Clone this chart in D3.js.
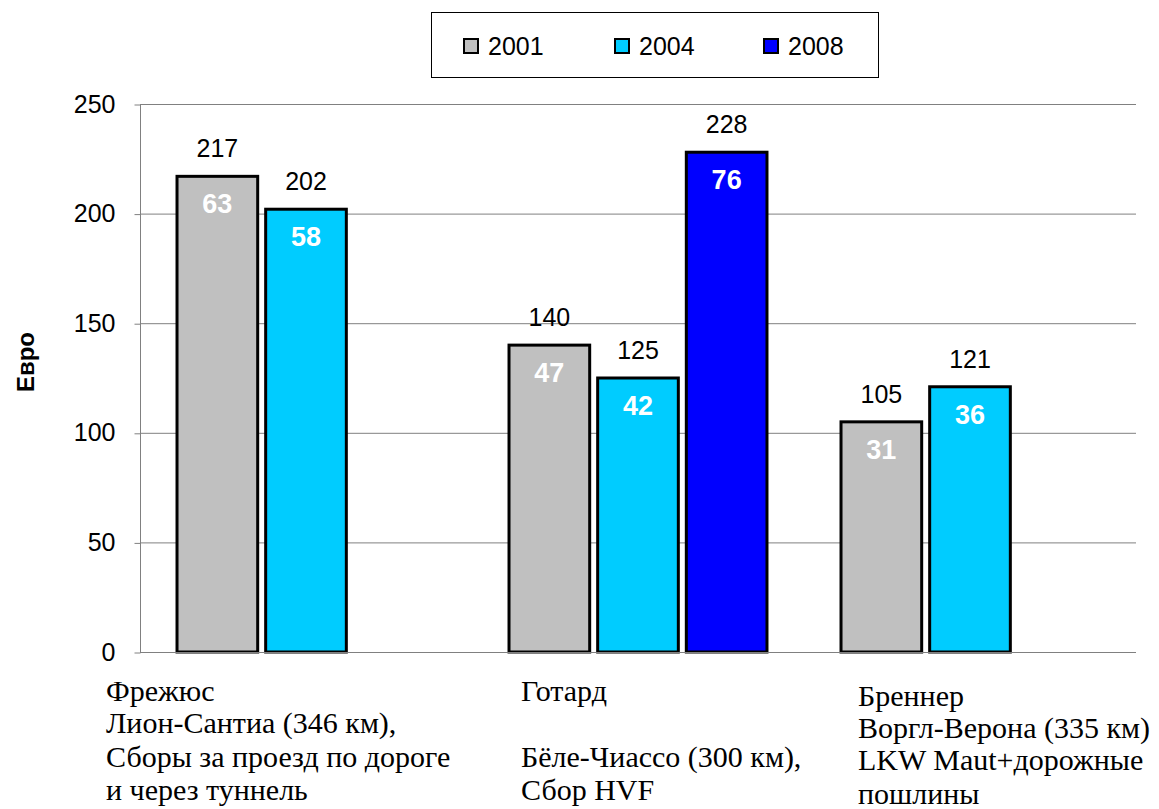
<!DOCTYPE html>
<html>
<head>
<meta charset="utf-8">
<script src="https://cdn.jsdelivr.net/npm/d3@7"></script>
<style>
  body { margin: 0; background: #fff; }
  svg { display: block; }
</style>
</head>
<body>
<div class="canvas"></div>
<script>
// данные
const categories = ["Фрежюс", "Готард", "Бреннер"];
const categoryLines = [
  ["Фрежюс", "Лион-Сантиа (346 км),", "Сборы за проезд по дороге", "и через туннель"],
  ["Готард", "", "Бёле-Чиассо (300 км),", "Сбор HVF"],
  ["Бреннер", "Воргл-Верона (335 км)", "LKW Maut+дорожные", "пошлины"]
];
const years = ["2001", "2004", "2008"];
const totals2001 = [217, 140, 105];
const totals2004 = [202, 125, 121];
const totals2008 = [null, 228, null];
const inner2001 = [63, 47, 31];
const inner2004 = [58, 42, 36];
const inner2008 = [null, 76, null];
const yTicks = [0, 50, 100, 150, 200, 250];

const colors = { "2001": "#C0C0C0", "2004": "#00CCFF", "2008": "#0000FF" };

const totals = [totals2001, totals2004, totals2008];
const inners = [inner2001, inner2004, inner2008];
const bars = [];
categories.forEach((c, ci) => {
  years.forEach((y, yi) => {
    if (totals[yi][ci] != null) {
      bars.push({ cat: c, year: y, total: totals[yi][ci], inner: inners[yi][ci] });
    }
  });
});

const svgWidth = 1159, svgHeight = 809;
const plotLeft = 140, plotRight = 1136, plotTop = 104, plotBottom = 652;
const sans = "Arial, 'Liberation Sans', sans-serif";

const svg = d3.select(".canvas").append("svg")
  .attr("width", svgWidth)
  .attr("height", svgHeight);

const x0 = d3.scaleBand()
  .domain(categories)
  .range([plotLeft, plotRight])
  .paddingInner(0.223)
  .paddingOuter(0.1115);

const x1 = d3.scaleBand()
  .domain(years)
  .range([0, x0.bandwidth()])
  .paddingInner(0.09);

const yScale = d3.scaleLinear()
  .domain([0, 250])
  .range([plotBottom, plotTop]);

// сетка
svg.append("g")
  .selectAll("line")
  .data(yTicks)
  .join("line")
  .attr("x1", plotLeft)
  .attr("x2", plotRight)
  .attr("y1", d => yScale(d) + 0.5)
  .attr("y2", d => yScale(d) + 0.5)
  .attr("stroke", "#808080")
  .attr("stroke-width", 1);

// ось Y
const gy = svg.append("g")
  .attr("transform", `translate(${plotLeft + 0.5},0)`)
  .call(d3.axisLeft(yScale).tickValues(yTicks).tickSize(6).tickPadding(19));
gy.select(".domain").attr("stroke", "#808080").attr("d", `M0,${plotTop}V${plotBottom}`);
gy.selectAll(".tick line").attr("stroke", "#808080").attr("transform", "translate(0,0.5)");
gy.selectAll(".tick text")
  .attr("font-family", sans)
  .attr("font-size", 25)
  .attr("fill", "#000");

// столбцы
const barG = svg.append("g");
barG.selectAll("rect")
  .data(bars)
  .join("rect")
  .attr("x", d => x0(d.cat) + x1(d.year))
  .attr("y", d => yScale(d.total))
  .attr("width", x1.bandwidth())
  .attr("height", d => yScale(0) - yScale(d.total))
  .attr("fill", d => colors[d.year])
  .attr("stroke", "#000")
  .attr("stroke-width", 3);

// подписи сверху
barG.selectAll("text.total")
  .data(bars)
  .join("text")
  .attr("class", "total")
  .attr("x", d => x0(d.cat) + x1(d.year) + x1.bandwidth() / 2)
  .attr("y", d => yScale(d.total) - 19)
  .attr("text-anchor", "middle")
  .attr("font-family", sans)
  .attr("font-size", 25)
  .text(d => d.total);

// подписи внутри
barG.selectAll("text.inner")
  .data(bars)
  .join("text")
  .attr("class", "inner")
  .attr("x", d => x0(d.cat) + x1(d.year) + x1.bandwidth() / 2)
  .attr("y", d => yScale(d.total) + 37)
  .attr("text-anchor", "middle")
  .attr("font-family", sans)
  .attr("font-size", 27)
  .attr("font-weight", "bold")
  .attr("fill", "#fff")
  .text(d => d.inner);

// ось X
svg.append("line")
  .attr("x1", plotLeft).attr("x2", plotRight)
  .attr("y1", plotBottom + 0.5).attr("y2", plotBottom + 0.5)
  .attr("stroke", "#808080");

// подписи категорий
const labelShift = [-71, 12, 17];
const lineY = [[701, 733, 767, 800], [701, 733, 767, 800], [706, 738, 770, 804]];
const catG = svg.append("g")
  .attr("font-family", "'Times New Roman', 'Liberation Serif', serif")
  .attr("font-size", 30);
categories.forEach((c, ci) => {
  catG.append("text")
    .selectAll("tspan")
    .data(categoryLines[ci])
    .join("tspan")
    .attr("x", x0(c) + labelShift[ci])
    .attr("y", (d, i) => lineY[ci][i])
    .text(d => d);
});

// заголовок оси Y
svg.append("text")
  .attr("transform", "translate(34,362) rotate(-90)")
  .attr("text-anchor", "middle")
  .attr("font-family", sans)
  .attr("font-size", 24)
  .attr("font-weight", "bold")
  .text("Евро");

// легенда
svg.append("rect")
  .attr("x", 431.5).attr("y", 12.5)
  .attr("width", 447).attr("height", 65)
  .attr("fill", "#fff")
  .attr("stroke", "#000")
  .attr("stroke-width", 1);

const legendX = [464, 615, 764];
const legend = svg.selectAll(".legend")
  .data(years)
  .join("g")
  .attr("class", "legend")
  .attr("transform", (d, i) => `translate(${legendX[i]},39)`);
legend.append("rect")
  .attr("width", 14).attr("height", 14)
  .attr("fill", d => colors[d])
  .attr("stroke", "#000")
  .attr("stroke-width", 2);
legend.append("text")
  .attr("x", 24)
  .attr("y", 16)
  .attr("font-family", sans)
  .attr("font-size", 25)
  .text(d => d);
</script>
</body>
</html>
